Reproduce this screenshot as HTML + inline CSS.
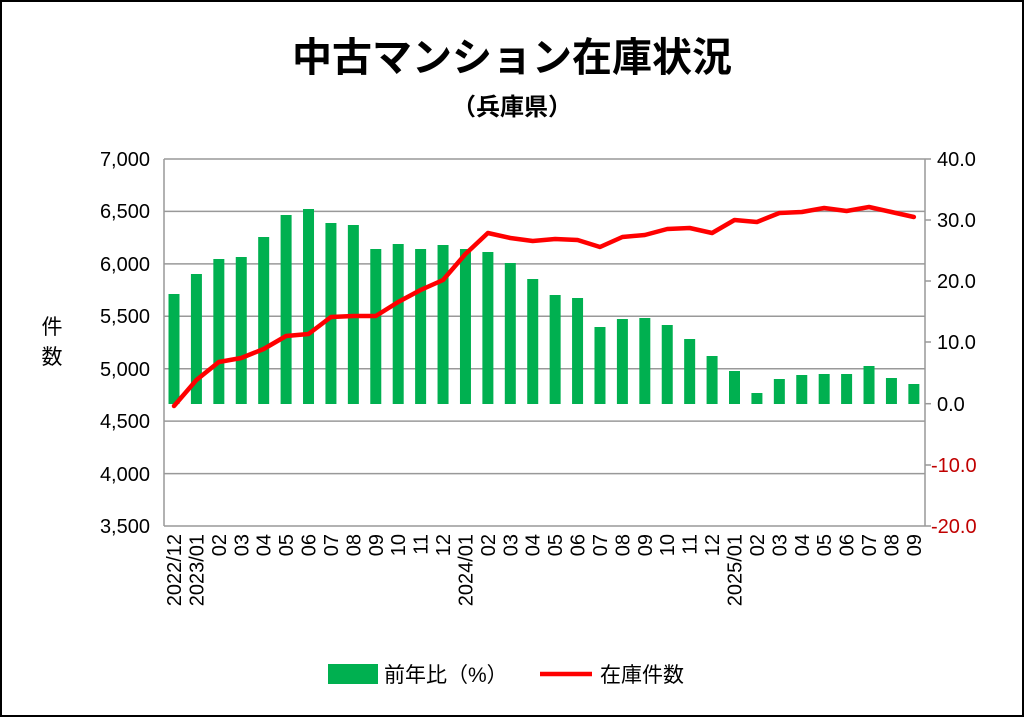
<!DOCTYPE html>
<html><head><meta charset="utf-8"><style>
body{margin:0;background:#fff}
svg{display:block;font-family:"Liberation Sans","Noto Sans CJK JP",sans-serif}
</style></head><body>
<svg width="1024" height="717" viewBox="0 0 1024 717">
<rect x="1" y="1" width="1022" height="715" fill="#fff" stroke="#000" stroke-width="2"/>
<text x="512" y="71" font-size="40" font-weight="bold" text-anchor="middle">中古マンション在庫状況</text>
<text x="512" y="115" font-size="24" font-weight="bold" text-anchor="middle">（兵庫県）</text>
<g stroke="#999" stroke-width="1.5">
<line x1="164" y1="159" x2="925" y2="159"/>
<line x1="164" y1="211.4" x2="925" y2="211.4"/>
<line x1="164" y1="263.9" x2="925" y2="263.9"/>
<line x1="164" y1="316.3" x2="925" y2="316.3"/>
<line x1="164" y1="368.7" x2="925" y2="368.7"/>
<line x1="164" y1="421.1" x2="925" y2="421.1"/>
<line x1="164" y1="473.6" x2="925" y2="473.6"/>
<line x1="164" y1="526" x2="925" y2="526"/>
<line x1="164" y1="159" x2="164" y2="526"/>
<line x1="925" y1="159" x2="925" y2="526"/>
<line x1="925" y1="159" x2="931" y2="159"/>
<line x1="925" y1="220" x2="931" y2="220"/>
<line x1="925" y1="281" x2="931" y2="281"/>
<line x1="925" y1="342" x2="931" y2="342"/>
<line x1="925" y1="403.7" x2="931" y2="403.7"/>
<line x1="925" y1="465" x2="931" y2="465"/>
<line x1="925" y1="526" x2="931" y2="526"/>
</g>
<g font-size="20" text-anchor="end">
<text x="150" y="166">7,000</text><text x="150" y="218">6,500</text><text x="150" y="271">6,000</text>
<text x="150" y="323">5,500</text><text x="150" y="376">5,000</text><text x="150" y="428">4,500</text>
<text x="150" y="481">4,000</text><text x="150" y="533">3,500</text>
</g>
<g font-size="20" text-anchor="start">
<text x="937" y="166">40.0</text><text x="937" y="227">30.0</text><text x="937" y="288">20.0</text>
<text x="937" y="349">10.0</text><text x="937" y="411">0.0</text>
<text x="931" y="472" fill="#c00000">-10.0</text><text x="931" y="533" fill="#c00000">-20.0</text>
</g>
<text x="52" y="334" font-size="21" text-anchor="middle">件</text>
<text x="52" y="364" font-size="21" text-anchor="middle">数</text>
<g fill="#00b050" id="bars"></g>
<polyline id="ln" fill="none" stroke="#ff0000" stroke-width="4.5" stroke-linejoin="round" stroke-linecap="round" points=""/>
<g id="xl" font-size="20"></g>
<rect x="328" y="664" width="50" height="20" fill="#00b050"/>
<text x="384" y="682" font-size="21">前年比（%）</text>
<line x1="540" y1="674" x2="592" y2="674" stroke="#ff0000" stroke-width="4.5"/>
<text x="600" y="682" font-size="21">在庫件数</text>
</svg>
<script>
var tops=[294,274,259,257,237,215,209,223,225,249,244,249,245,249,252,263,279,295,298,327,319,318,325,339,356,371,393,379,375,374,374,366,378,384];
var ly=[406,380,362,358,349,336,334,317,316,316,302,290,280,254,233,238,241,239,240,247,237,235,229,228,233,220,222,213,212,208,211,207,212,217];
var labs=["2022/12","2023/01","02","03","04","05","06","07","08","09","10","11","12","2024/01","02","03","04","05","06","07","08","09","10","11","12","2025/01","02","03","04","05","06","07","08","09"];
var ns="http://www.w3.org/2000/svg",b=document.getElementById('bars'),xl=document.getElementById('xl'),pts=[];
for(var i=0;i<34;i++){var cx=174+i*22.42;
var r=document.createElementNS(ns,'rect');r.setAttribute('x',cx-5.5);r.setAttribute('y',tops[i]);r.setAttribute('width',11);r.setAttribute('height',404-tops[i]);b.appendChild(r);
pts.push(cx+','+ly[i]);
var t=document.createElementNS(ns,'text');t.setAttribute('transform','translate('+(cx+7)+',534) rotate(-90)');t.setAttribute('text-anchor','end');t.textContent=labs[i];xl.appendChild(t);}
document.getElementById('ln').setAttribute('points',pts.join(' '));
</script>
</body></html>
